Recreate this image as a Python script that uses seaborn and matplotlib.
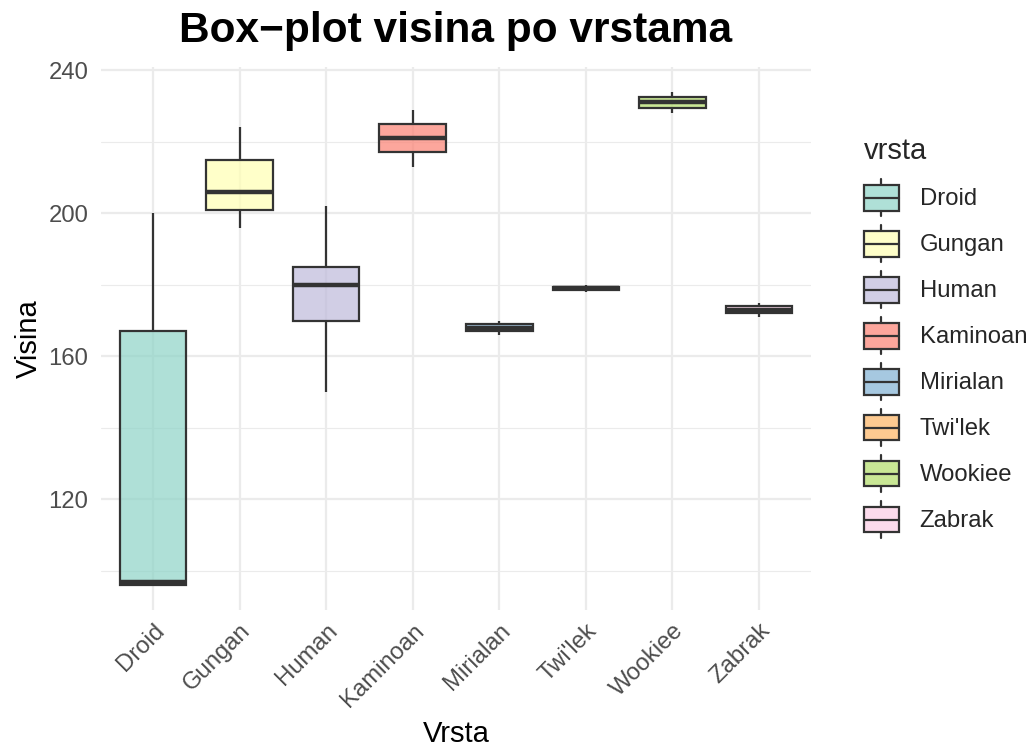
import matplotlib
matplotlib.use("Agg")
import matplotlib.pyplot as plt
import seaborn as sns
import pandas as pd
from matplotlib.colors import to_rgba
from matplotlib.legend_handler import HandlerBase
from matplotlib.patches import Rectangle, Patch
from matplotlib.lines import Line2D
from matplotlib.ticker import MultipleLocator

# ---- data (heights per species) ----
species = ["Droid", "Gungan", "Human", "Kaminoan", "Mirialan", "Twi'lek", "Wookiee", "Zabrak"]
droid = [167, 96, 97, 200, 96]
gungan = [196, 224, 206]
human = [172, 202, 150, 178, 165, 183, 182, 188, 180, 180, 170, 180, 170, 183, 177,
         175, 150, 193, 170, 185, 183, 183, 163, 188, 185, 157, 183, 165, 193, 191,
         183, 188, 167]
kaminoan = [229, 213]
mirialan = [170, 166]
twilek = [180, 178]
wookiee = [228, 234]
zabrak = [175, 171]
heights = [droid, gungan, human, kaminoan, mirialan, twilek, wookiee, zabrak]
palette = ["#8DD3C7", "#FFFFB3", "#BEBADA", "#FB8072", "#80B1D3", "#FDB462", "#B3DE69", "#FCCDE5"]

title = "Box\u2212plot visina po vrstama"
xlabel = "Vrsta"
ylabel = "Visina"
legend_title = "vrsta"

rows = [(s, h) for s, hs in zip(species, heights) for h in hs]
df = pd.DataFrame(rows, columns=["vrsta", "visina"])
df["vrsta"] = pd.Categorical(df["vrsta"], categories=species, ordered=True)

sns.set_theme(style="white")
plt.rcParams["font.family"] = ["Liberation Sans", "DejaVu Sans"]

DPI = 100
fig = plt.figure(figsize=(10.27, 7.47), dpi=DPI)
ax = fig.add_axes([101 / 1027, 1 - 610 / 747, (811 - 101) / 1027, (610 - 67) / 747])

edge = "#333333"
TICK = 17.2
AXT = 21
sns.boxplot(data=df, x="vrsta", y="visina", hue="vrsta", order=species, hue_order=species,
            palette=palette, saturation=1, width=0.77, linecolor=edge, linewidth=1.6,
            showcaps=False, legend=False, ax=ax,
            medianprops=dict(linewidth=3.2, color=edge, solid_capstyle="butt"),
            whiskerprops=dict(linewidth=1.6, color=edge),
            boxprops=dict(linewidth=1.6, edgecolor=edge))

for p in ax.patches:
    fc = p.get_facecolor()
    p.set_facecolor(to_rgba(fc[:3], 0.7))
    p.set_zorder(3)
for ln in ax.lines:
    ln.set_zorder(4)

ax.set_xlim(-0.6, len(species) - 0.4)
ax.set_ylim(89.1, 240.9)
ax.yaxis.set_major_locator(MultipleLocator(40))
ax.yaxis.set_minor_locator(MultipleLocator(20))
ax.set_axisbelow(True)
ax.grid(which="major", color="#EBEBEB", linewidth=1.6)
ax.grid(which="minor", axis="y", color="#EBEBEB", linewidth=0.8)
for s in ax.spines.values():
    s.set_visible(False)
ax.tick_params(axis="both", which="both", length=0, labelsize=TICK, colors="#4D4D4D")
ax.tick_params(axis="y", pad=9)
ax.tick_params(axis="x", pad=7)
for lab in ax.get_xticklabels():
    lab.set_rotation(45)
    lab.set_ha("right")
    lab.set_va("top")
    lab.set_rotation_mode("anchor")

ax.set_xlabel(xlabel, fontsize=AXT, color="black", labelpad=6)
ax.set_ylabel(ylabel, fontsize=AXT, color="black", labelpad=4)
ax.set_title(title, fontsize=30.5, fontweight="bold", color="black", pad=18)


class HandlerBox(HandlerBase):
    def create_artists(self, legend, orig_handle, xdescent, ydescent, width, height, fontsize, trans):
        fc = orig_handle.get_facecolor()
        x0, y0 = -xdescent, -ydescent
        b0 = y0 + height * 0.15
        b1 = y0 + height * 0.85
        cx = x0 + width / 2
        rect = Rectangle((x0, b0), width, b1 - b0, facecolor=fc, edgecolor=edge,
                         linewidth=1.6, transform=trans)
        med = Line2D([x0, x0 + width], [(b0 + b1) / 2] * 2, color=edge, linewidth=1.6, transform=trans)
        w1 = Line2D([cx, cx], [y0, b0], color=edge, linewidth=1.6, transform=trans)
        w2 = Line2D([cx, cx], [b1, y0 + height], color=edge, linewidth=1.6, transform=trans)
        return [w1, w2, rect, med]


handles = [Patch(facecolor=to_rgba(c, 0.7), edgecolor=edge) for c in palette]
leg = fig.legend(handles, species, loc="upper left", bbox_to_anchor=(854 / 1027, 1 - 127 / 747),
                 frameon=False, fontsize=TICK, title=legend_title, title_fontsize=AXT,
                 handler_map={Patch: HandlerBox()}, handlelength=1.5, handleheight=2.0,
                 labelspacing=0.38, handletextpad=0.85, alignment="left", borderaxespad=0)
leg._legend_box.sep = 0.38 * TICK + 4

fig.savefig("out.png", dpi=DPI)
